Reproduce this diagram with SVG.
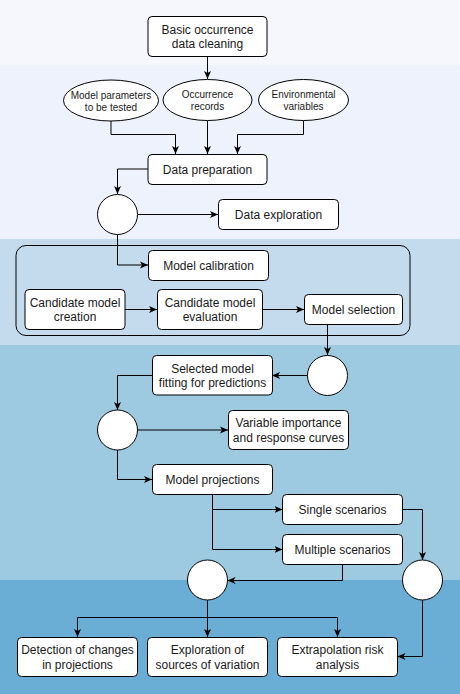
<svg xmlns="http://www.w3.org/2000/svg" width="460" height="694" viewBox="0 0 460 694">
<style>
.box{fill:#fff;stroke:#000;stroke-width:1}
.cir{fill:#fff;stroke:#000;stroke-width:1}
.con{fill:none;stroke:#000;stroke-width:1}
text{font-family:"Liberation Sans",Arial,sans-serif;font-size:12px;fill:#1a1a1a;text-anchor:middle}
.sm{font-size:10px}
</style>
<defs>
<marker id="arr" markerUnits="userSpaceOnUse" markerWidth="8" markerHeight="8" refX="8" refY="4" orient="auto">
<path d="M0,0.5 L8,4 L0,7.5 L2,4 z" fill="#000"/>
</marker>
</defs>
<g id="bands">
<rect x="0" y="0" width="460" height="65" fill="#f5f7fd"/>
<rect x="0" y="65" width="460" height="174" fill="#eef2fc"/>
<rect x="0" y="239" width="460" height="106" fill="#c4dbee"/>
<rect x="0" y="345" width="460" height="235" fill="#9ecae1"/>
<rect x="0" y="580" width="460" height="114" fill="#6aaed6"/>
</g>
<g id="calibration-group">
<rect x="16" y="245.5" width="394" height="90" rx="10" fill="none" stroke="#000" stroke-width="1"/>
</g>
<g id="connectors">
<path class="con" d="M207.5,56 V79" marker-end="url(#arr)"/>
<path class="con" d="M111,121 V134.5 H175.5 V154" marker-end="url(#arr)"/>
<path class="con" d="M207.5,120.5 V154" marker-end="url(#arr)"/>
<path class="con" d="M303.5,120.5 V134.5 H237.5 V154" marker-end="url(#arr)"/>
<path class="con" d="M148,169 H117.5 V194" marker-end="url(#arr)"/>
<path class="con" d="M137.5,214.5 H218" marker-end="url(#arr)"/>
<path class="con" d="M117.5,234.5 V265 H148" marker-end="url(#arr)"/>
<path class="con" d="M125,309.5 H157" marker-end="url(#arr)"/>
<path class="con" d="M262,309.5 H304" marker-end="url(#arr)"/>
<path class="con" d="M327.5,324 V355" marker-end="url(#arr)"/>
<path class="con" d="M307.5,375.5 H272" marker-end="url(#arr)"/>
<path class="con" d="M152,375.5 H117.5 V410" marker-end="url(#arr)"/>
<path class="con" d="M137.5,430 H228" marker-end="url(#arr)"/>
<path class="con" d="M117.5,450 V479.5 H152" marker-end="url(#arr)"/>
<path class="con" d="M212.5,494 V509.5 H282.5" marker-end="url(#arr)"/>
<path class="con" d="M212.5,509.5 V549.5 H282.5" marker-end="url(#arr)"/>
<path class="con" d="M402.5,509.5 H422.5 V560" marker-end="url(#arr)"/>
<path class="con" d="M342.5,564 V580.5 H227.5" marker-end="url(#arr)"/>
<path class="con" d="M207.5,600 V617.5 H77.5 V637" marker-end="url(#arr)"/>
<path class="con" d="M207.5,617.5 V637" marker-end="url(#arr)"/>
<path class="con" d="M207.5,617.5 H337.5 V637" marker-end="url(#arr)"/>
<path class="con" d="M422.5,600 V656.5 H397.5" marker-end="url(#arr)"/>
</g>
<g id="basic-cleaning">
<rect class="box" x="148" y="16.5" width="119" height="40" rx="4"/>
<text x="207.5" y="33.5">Basic occurrence</text>
<text x="207.5" y="48">data cleaning</text>
</g>
<g id="model-params">
<ellipse class="box" cx="111" cy="100.5" rx="47.5" ry="20.5"/>
<text class="sm" x="111" y="98.5">Model parameters</text>
<text class="sm" x="111" y="110.5">to be tested</text>
</g>
<g id="occurrence-records">
<ellipse class="box" cx="207.5" cy="100" rx="44.5" ry="20.5"/>
<text class="sm" x="207.5" y="97.5">Occurrence</text>
<text class="sm" x="207.5" y="109.5">records</text>
</g>
<g id="env-vars">
<ellipse class="box" cx="303.5" cy="100" rx="45" ry="20.5"/>
<text class="sm" x="303.5" y="97.5">Environmental</text>
<text class="sm" x="303.5" y="109.5">variables</text>
</g>
<g id="data-prep">
<rect class="box" x="148" y="154.5" width="119" height="30" rx="4"/>
<text x="207.5" y="173.5">Data preparation</text>
</g>
<g id="decision-1">
<circle class="cir" cx="117.5" cy="214.5" r="20"/>
</g>
<g id="data-exploration">
<rect class="box" x="218.5" y="199.5" width="120" height="30" rx="4"/>
<text x="278.5" y="218.5">Data exploration</text>
</g>
<g id="model-calibration">
<rect class="box" x="148.5" y="250.5" width="120" height="30" rx="4"/>
<text x="208.5" y="269.5">Model calibration</text>
</g>
<g id="candidate-creation">
<rect class="box" x="25" y="289.5" width="100" height="40" rx="4"/>
<text x="75" y="306.5">Candidate model</text>
<text x="75" y="321">creation</text>
</g>
<g id="candidate-evaluation">
<rect class="box" x="157.5" y="289.5" width="105" height="40" rx="4"/>
<text x="210" y="306.5">Candidate model</text>
<text x="210" y="321">evaluation</text>
</g>
<g id="model-selection">
<rect class="box" x="304.5" y="294.5" width="98" height="30" rx="4"/>
<text x="353.5" y="313.5">Model selection</text>
</g>
<g id="decision-2">
<circle class="cir" cx="327.5" cy="375.5" r="20"/>
</g>
<g id="selected-fitting">
<rect class="box" x="152.5" y="355.5" width="120" height="39.5" rx="4"/>
<text x="212.5" y="372.5">Selected model</text>
<text x="212.5" y="387">fitting for predictions</text>
</g>
<g id="decision-3">
<circle class="cir" cx="117.5" cy="430" r="20"/>
</g>
<g id="variable-importance">
<rect class="box" x="228.5" y="410.5" width="120" height="39" rx="4"/>
<text x="288.5" y="427">Variable importance</text>
<text x="288.5" y="441.5">and response curves</text>
</g>
<g id="model-projections">
<rect class="box" x="152.5" y="464.5" width="120" height="30" rx="4"/>
<text x="212.5" y="483.5">Model projections</text>
</g>
<g id="single-scenarios">
<rect class="box" x="282.5" y="494.5" width="120" height="30" rx="4"/>
<text x="342.5" y="513.5">Single scenarios</text>
</g>
<g id="multiple-scenarios">
<rect class="box" x="282.5" y="534.5" width="120" height="30" rx="4"/>
<text x="342.5" y="553.5">Multiple scenarios</text>
</g>
<g id="decision-4">
<circle class="cir" cx="207.5" cy="580" r="20"/>
</g>
<g id="decision-5">
<circle class="cir" cx="422.5" cy="580" r="20"/>
</g>
<g id="detection-changes">
<rect class="box" x="17.5" y="637.5" width="120" height="39" rx="4"/>
<text x="77.5" y="654">Detection of changes</text>
<text x="77.5" y="668.5">in projections</text>
</g>
<g id="exploration-variation">
<rect class="box" x="147.5" y="637.5" width="120" height="39" rx="4"/>
<text x="207.5" y="654">Exploration of</text>
<text x="207.5" y="668.5">sources of variation</text>
</g>
<g id="extrapolation-risk">
<rect class="box" x="277.5" y="637.5" width="120" height="39" rx="4"/>
<text x="337.5" y="654">Extrapolation risk</text>
<text x="337.5" y="668.5">analysis</text>
</g>
</svg>
